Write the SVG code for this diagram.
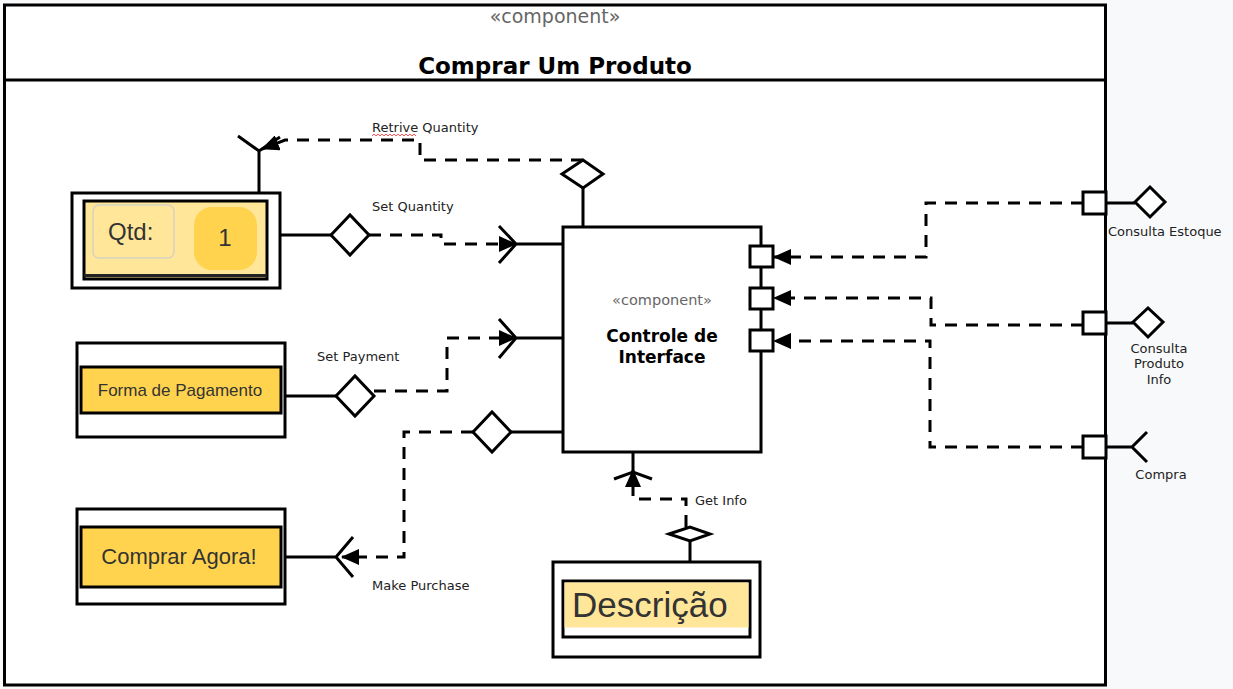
<svg xmlns="http://www.w3.org/2000/svg" width="1233" height="689" viewBox="0 0 1233 689">
<style>
.ln{fill:none;stroke:#000;stroke-width:3}
.dash{fill:none;stroke:#000;stroke-width:3;stroke-dasharray:12 9}
.wf{fill:#fff;stroke:#000;stroke-width:3}
.lbl{font-family:"DejaVu Sans",Verdana,sans-serif;font-size:13px;fill:#222}
.ui{font-family:"Liberation Sans",Arial,sans-serif;fill:#333}
</style>
<defs>
<marker id="tri" viewBox="0 0 18 16" refX="17" refY="8" markerWidth="18" markerHeight="16" markerUnits="userSpaceOnUse" orient="auto">
<path d="M0,0 L18,8 L0,16 Z" fill="#000"/>
</marker>
</defs>
<rect x="0" y="0" width="1233" height="689" fill="#f8f9fa"/>

<g id="frame">
<rect x="4.5" y="5" width="1101" height="680" fill="#fff" stroke="#000" stroke-width="3"/>
<line x1="4.5" y1="80" x2="1105.5" y2="80" stroke="#000" stroke-width="3"/>
<text x="555" y="23" text-anchor="middle" font-family="DejaVu Sans,sans-serif" font-size="19" fill="#666">«component»</text>
<text x="555" y="74" text-anchor="middle" font-family="DejaVu Sans,sans-serif" font-size="23" font-weight="bold" fill="#000">Comprar Um Produto</text>
</g>

<g id="connectors">
<path class="dash" d="M583,160 H420 V140 H285 L262,149" marker-end="url(#tri)"/>
<path class="dash" d="M369,235 H441 V244 H516" marker-end="url(#tri)"/>
<path class="dash" d="M374,391 H447 V338 H516" marker-end="url(#tri)"/>
<path class="dash" d="M473,432 H404 V557 H342" marker-end="url(#tri)"/>
<path class="dash" d="M686,527 V499 H633 V470" marker-end="url(#tri)"/>
<path class="dash" d="M1083,203 H926 V257 H774" marker-end="url(#tri)"/>
<path class="dash" d="M1083,325 H931 V298 H774" marker-end="url(#tri)"/>
<path class="dash" d="M1083,447 H930 V341 H774" marker-end="url(#tri)"/>
<path d="M372,136 l2,-2 l2,2 l2,-2 l2,2 l2,-2 l2,2 l2,-2 l2,2 l2,-2 l2,2 l2,-2 l2,2 l2,-2 l2,2 l2,-2 l2,2 l2,-2 l2,2 l2,-2 l2,2 l2,-2 l2,2" fill="none" stroke="#f55" stroke-width="1"/>

<path class="ln" d="M259,193 V151 M238,136 L259,151 L280,137"/>
<path class="ln" d="M280,235 H331"/>
<polygon class="wf" points="331,235 350,215 369,235 350,255"/>
<path class="ln" d="M499,226 L516,244 L499,263 M516,244 H566"/>
<path class="ln" d="M285,396 H336"/>
<polygon class="wf" points="336,396 355,376 374,396 355,416"/>
<path class="ln" d="M499,319 L516,338 L499,358 M516,338 H566"/>
<path class="ln" d="M563,432 H511"/>
<polygon class="wf" points="473,432 492,412 511,432 492,452"/>
<path class="ln" d="M285,557 H336 M353,537 L336,557 L353,577"/>
<path class="ln" d="M583,188 V227"/>
<polygon class="wf" points="562,174 583,160 603,174 583,188"/>
<path class="ln" d="M633,452 V472 M614,479 L633,472 L652,479"/>
<path class="ln" d="M690,561 V541"/>
<polygon class="wf" points="669,534 690,527 710,534 690,541"/>
<path class="ln" d="M1106,203 H1135 M1106,323 H1133 M1106,447 H1132 M1147,432 L1132,447 L1147,462"/>
<polygon class="wf" points="1135,202 1150,187 1165,202 1150,217"/>
<polygon class="wf" points="1133,322 1148,308 1163,322 1148,337"/>
<rect class="wf" x="1083" y="192" width="23" height="22"/>
<rect class="wf" x="1083" y="312" width="23" height="22"/>
<rect class="wf" x="1083" y="436" width="23" height="22"/>
</g>

<g id="controle">
<rect class="wf" x="563" y="227" width="198" height="225"/>
<rect class="wf" x="750" y="246" width="23" height="21"/>
<rect class="wf" x="750" y="288" width="23" height="21"/>
<rect class="wf" x="750" y="330" width="23" height="21"/>
<text x="662" y="305" text-anchor="middle" font-family="DejaVu Sans,sans-serif" font-size="14.5" fill="#666">«component»</text>
<text x="662" y="342" text-anchor="middle" font-family="DejaVu Sans,sans-serif" font-size="17" font-weight="bold" fill="#000">Controle de</text>
<text x="662" y="363" text-anchor="middle" font-family="DejaVu Sans,sans-serif" font-size="17" font-weight="bold" fill="#000">Interface</text>
</g>

<g id="qtd">
<rect class="wf" x="72" y="193" width="208" height="95"/>
<rect x="84" y="201" width="183" height="78" fill="#ffe699" stroke="#000" stroke-width="3"/>
<line x1="84" y1="275.5" x2="267" y2="275.5" stroke="#222" stroke-width="3"/>
<rect x="93" y="205" width="81" height="53" rx="6" fill="#ffe699" stroke="#d6d2c2" stroke-width="1.5"/>
<text class="ui" x="108" y="240" font-size="24">Qtd:</text>
<rect x="194" y="207" width="63" height="63" rx="18" fill="#ffd34e"/>
<text class="ui" x="225" y="246" font-size="24" text-anchor="middle">1</text>
</g>

<g id="forma">
<rect class="wf" x="77" y="343" width="208" height="94"/>
<rect x="81" y="367" width="200" height="46" fill="#ffd34e" stroke="#000" stroke-width="3"/>
<text class="ui" x="180" y="396" font-size="17" text-anchor="middle">Forma de Pagamento</text>
</g>

<g id="comprar">
<rect class="wf" x="77" y="509" width="208" height="95"/>
<rect x="81" y="527" width="200" height="60" fill="#ffd34e" stroke="#000" stroke-width="3"/>
<text class="ui" x="179" y="564" font-size="22" text-anchor="middle">Comprar Agora!</text>
</g>

<g id="descricao">
<rect class="wf" x="553" y="562" width="207" height="95"/>
<rect x="563" y="581" width="187" height="56" fill="#fff" stroke="#000" stroke-width="3"/>
<rect x="564.5" y="582.5" width="184" height="45" fill="#ffe699"/>
<text class="ui" x="572" y="617" font-size="35">Descrição</text>
</g>

<g id="labels">
<text class="lbl" x="372" y="132">Retrive Quantity</text>
<text class="lbl" x="372" y="211">Set Quantity</text>
<text class="lbl" x="317" y="361">Set Payment</text>
<text class="lbl" x="372" y="590">Make Purchase</text>
<text class="lbl" x="695" y="505">Get Info</text>
<text class="lbl" x="1108" y="236">Consulta Estoque</text>
<text class="lbl" x="1159" y="353" text-anchor="middle">Consulta</text>
<text class="lbl" x="1159" y="368" text-anchor="middle">Produto</text>
<text class="lbl" x="1159" y="384" text-anchor="middle">Info</text>
<text class="lbl" x="1161" y="479" text-anchor="middle">Compra</text>
</g>
</svg>
